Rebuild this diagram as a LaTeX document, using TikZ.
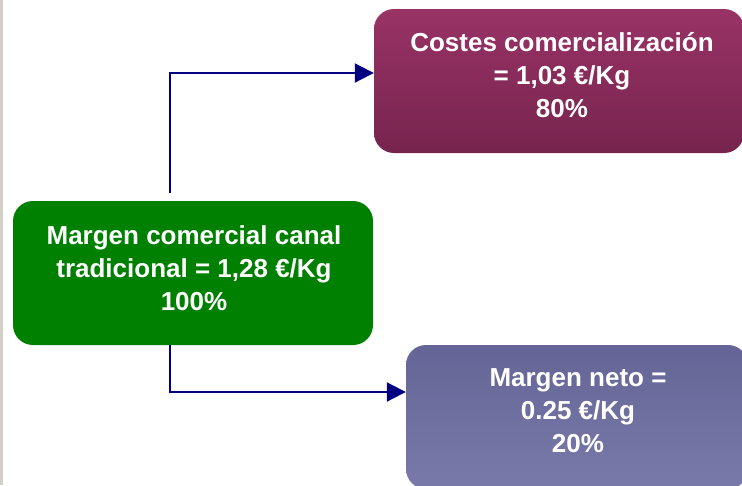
\documentclass[tikz,border=0pt]{standalone}
\usepackage{fontspec}
\setmainfont{Liberation Sans}
\usetikzlibrary{arrows.meta}
\definecolor{greenc}{RGB}{0,128,0}
\definecolor{purtop}{RGB}{153,51,102}
\definecolor{purbot}{RGB}{118,36,78}
\definecolor{bluetop}{RGB}{100,100,150}
\definecolor{bluebot}{RGB}{122,122,170}
\definecolor{navyc}{RGB}{0,0,128}
\definecolor{bordc}{RGB}{212,208,200}
\begin{document}
\begin{tikzpicture}[x=1pt,y=-1pt,
  box/.style={rectangle, rounded corners=20pt, minimum height=144pt, inner sep=0pt, draw=none},
  txt/.style={text=white, font=\fontsize{26}{33}\selectfont\bfseries, align=center, inner sep=0pt},
  conn/.style={draw=navyc, line width=2pt, -{Triangle[length=19pt,width=19pt]}}]
\useasboundingbox (0,0) rectangle (742,485);
\clip (0,0) rectangle (742,485);
\fill[white] (0,0) rectangle (742,485);
\fill[bordc] (0,0) rectangle (2.5,485);
\node[box, minimum width=360pt, fill=greenc] (g) at (193,273) {};
\node[box, minimum width=370pt, top color=purtop, bottom color=purbot] (c) at (559,81) {};
\node[box, minimum width=342pt, top color=bluetop, bottom color=bluebot] (n) at (577,417) {};
\node[txt] (gt) at (194,268) {Margen comercial canal\\tradicional = 1,28 €/Kg\\100\%};
\node[txt] (ct) at (562,75) {Costes comercialización\\= 1,03 €/Kg\\80\%};
\node[txt] (nt) at (578,411) {Margen neto =\\0.25 €/Kg\\20\%};
\draw[conn] ([xshift=-23pt,yshift=8pt]g.north) |- ([yshift=8pt]c.west);
\draw[conn] ([xshift=-23pt]g.south) |- ([yshift=25pt]n.west);
\end{tikzpicture}
\end{document}
